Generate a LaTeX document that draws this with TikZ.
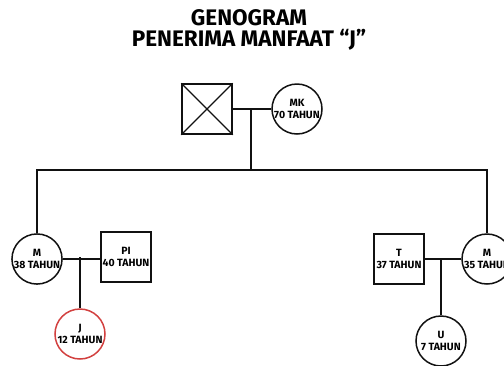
\documentclass[tikz,border=0pt]{standalone}
\usepackage{fontspec}
\setmainfont{Fira Sans}
\usetikzlibrary{positioning}
\definecolor{gdark}{HTML}{111111}
\definecolor{gred}{HTML}{D2403F}

\begin{document}
\begin{tikzpicture}[x=1pt, y=-1pt, font=\bfseries\fontsize{10.5}{12}\selectfont,
  male/.style={draw=gdark, line width=1.5pt, minimum size=50pt, inner sep=0pt, align=center},
  female/.style={draw=gdark, circle, line width=1.5pt, minimum size=50pt, inner sep=0pt, align=center},
  link/.style={draw=gdark, line width=1.1pt}]
  \useasboundingbox (0,0) rectangle (504,365);
  \node[font=\bfseries\fontsize{22.5}{20.5}\selectfont, align=center] (title) at (249,30) {GENOGRAM\\PENERIMA MANFAAT “J”};

  \node[male] (gf) at (207,109) {};
  \draw[line width=1.1pt, gdark] (gf.north west) -- (gf.south east) (gf.north east) -- (gf.south west);
  \node[female] (mk) at (297,109) {MK\\70 TAHUN};

  \node[female] (m1) at (37,259) {M\\38 TAHUN};
  \node[male] (pi) at (126,257) {PI\\40 TAHUN};
  \node[female, draw=gred] (j) at (80,334) {J\\12 TAHUN};

  \node[male] (t) at (399,259) {T\\37 TAHUN};
  \node[female] (m2) at (487,259) {M\\35 TAHUN};
  \node[female] (u) at (441,341) {U\\7 TAHUN};

  \coordinate (sib) at (251,170);
  \draw[link] (gf.east) -- (mk.west);
  \draw[link] (sib) -- (sib |- gf.east);
  \draw[link] (m1.north) |- (sib) -| (m2.north);

  \draw[link] (m1.east) -- (m1.east -| pi.west);
  \draw[link] (j.north) -- (j.north |- pi.west);
  \draw[link] (t.east) -- (m2.west);
  \draw[link] (u.north) -- (u.north |- t.east);
\end{tikzpicture}
\end{document}
